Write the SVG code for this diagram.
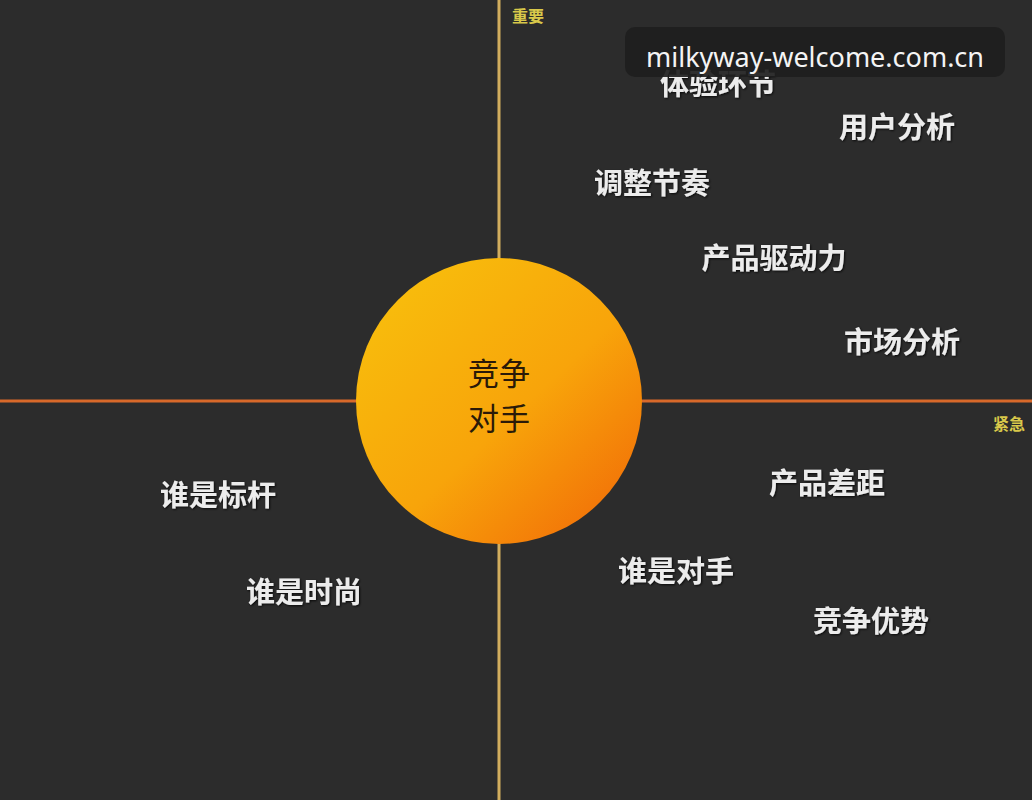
<svg xmlns="http://www.w3.org/2000/svg" width="1032" height="800" viewBox="0 0 1032 800">
<defs>
<linearGradient id="sun" x1="0.15" y1="0.1" x2="0.9" y2="0.9">
<stop offset="0" stop-color="#f8bc0c"/>
<stop offset="0.55" stop-color="#f8a40a"/>
<stop offset="1" stop-color="#f27208"/>
</linearGradient>
<filter id="sh" x="-10%" y="-30%" width="120%" height="160%">
<feDropShadow dx="1" dy="1" stdDeviation="1" flood-color="#000" flood-opacity="0.8"/>
</filter>
<style>
.lbl{font-family:"Noto Sans CJK SC","Noto Sans",sans-serif;font-size:29px;font-weight:bold;fill:#ececec;text-anchor:middle;dominant-baseline:central;filter:url(#sh)}
.axis{font-family:"Noto Sans CJK SC",sans-serif;font-size:16px;font-weight:bold;fill:#d8c84a;dominant-baseline:central}
.ctr{font-family:"Noto Sans CJK SC",sans-serif;font-size:31px;fill:#2a1a08;text-anchor:middle;dominant-baseline:central}
</style>
</defs>
<rect width="1032" height="800" fill="#2c2c2c"/>
<g id="connectors">
<line x1="499" y1="0" x2="499" y2="800" stroke="#d2ae5e" stroke-width="3"/>
<line x1="0" y1="401" x2="1032" y2="401" stroke="#d8692a" stroke-width="3"/>
</g>
<g id="axis-important"><text class="axis" x="512" y="15">重要</text></g>
<g id="axis-urgent"><text class="axis" x="993" y="423">紧急</text></g>
<g id="center">
<circle cx="499" cy="401" r="143" fill="url(#sun)"/>
<text class="ctr" x="499" y="371">竞争</text>
<text class="ctr" x="499" y="416">对手</text>
</g>
<g id="n-tiyan"><text class="lbl" x="718" y="82">体验环节</text></g>
<g id="n-yonghu"><text class="lbl" x="897" y="125">用户分析</text></g>
<g id="n-tiaozheng"><text class="lbl" x="652" y="181">调整节奏</text></g>
<g id="n-chanpinqudong"><text class="lbl" x="774" y="256">产品驱动力</text></g>
<g id="n-shichang"><text class="lbl" x="902" y="340">市场分析</text></g>
<g id="n-chanpinchaju"><text class="lbl" x="827" y="481">产品差距</text></g>
<g id="n-shuishiduishou"><text class="lbl" x="676" y="569">谁是对手</text></g>
<g id="n-jingzheng"><text class="lbl" x="871" y="619">竞争优势</text></g>
<g id="n-biaogan"><text class="lbl" x="218" y="493">谁是标杆</text></g>
<g id="n-shishang"><text class="lbl" x="304" y="590">谁是时尚</text></g>
<g id="watermark">
<rect x="625" y="27" width="380" height="50" rx="10" fill="#1e1e1e" fill-opacity="0.92"/>
<text x="815" y="56" font-family="'Noto Sans','Open Sans',sans-serif" font-size="27" fill="#f4f4f4" text-anchor="middle" dominant-baseline="central">milkyway-welcome.com.cn</text>
</g>
</svg>
